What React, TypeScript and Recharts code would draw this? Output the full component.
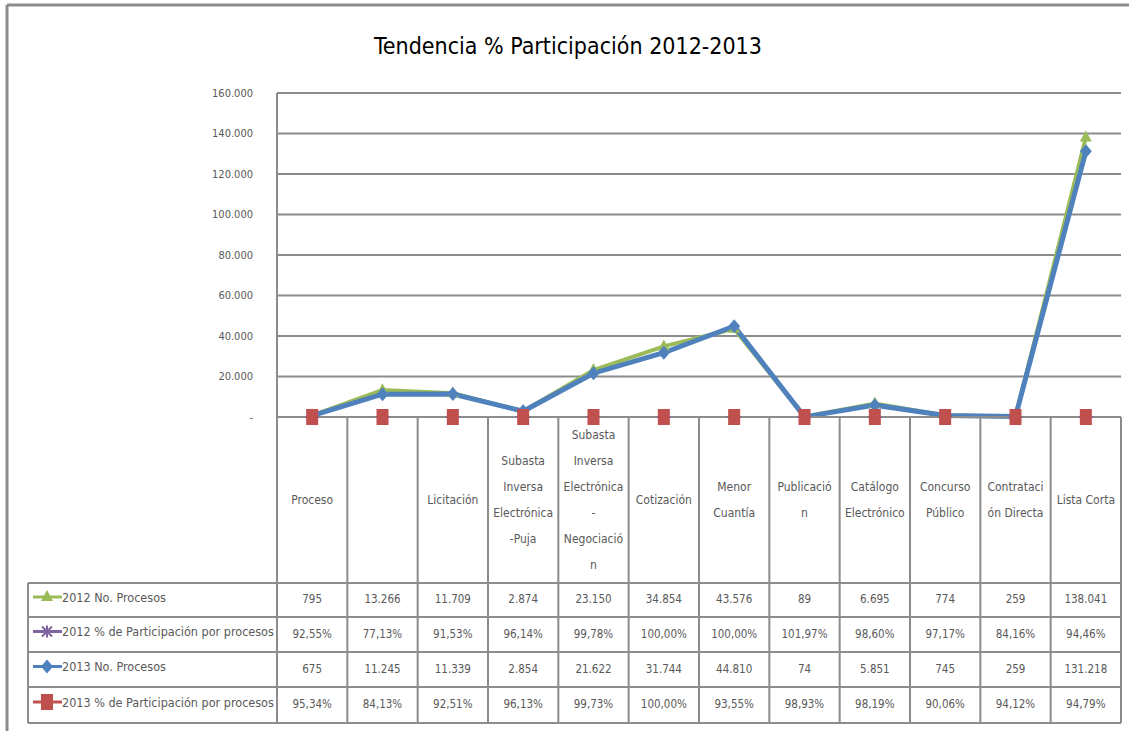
import { LineChart, Line, XAxis, YAxis, CartesianGrid, Customized } from 'recharts';

const categories: string[][] = [
  ['Proceso'],
  [],
  ['Licitación'],
  ['Subasta', 'Inversa', 'Electrónica', '-Puja'],
  ['Subasta', 'Inversa', 'Electrónica', '-', 'Negociació', 'n'],
  ['Cotización'],
  ['Menor', 'Cuantía'],
  ['Publicació', 'n'],
  ['Catálogo', 'Electrónico'],
  ['Concurso', 'Público'],
  ['Contrataci', 'ón Directa'],
  ['Lista Corta'],
];

const procesos2012 = [795, 13266, 11709, 2874, 23150, 34854, 43576, 89, 6695, 774, 259, 138041];
const participacion2012 = [92.55, 77.13, 91.53, 96.14, 99.78, 100.0, 100.0, 101.97, 98.6, 97.17, 84.16, 94.46];
const procesos2013 = [675, 11245, 11339, 2854, 21622, 31744, 44810, 74, 5851, 745, 259, 131218];
const participacion2013 = [95.34, 84.13, 92.51, 96.13, 99.73, 100.0, 93.55, 98.93, 98.19, 90.06, 94.12, 94.79];

const yTicks = [0, 20000, 40000, 60000, 80000, 100000, 120000, 140000, 160000];

const series = [
  { key: 'p2012', name: '2012 No. Procesos', color: '#9BBB59', shape: 'triangle', width: 4 },
  { key: 'q2012', name: '2012 % de Participación por procesos', color: '#8064A2', shape: 'star', width: 0 },
  { key: 'p2013', name: '2013 No. Procesos', color: '#4F81BD', shape: 'diamond', width: 5 },
  { key: 'q2013', name: '2013 % de Participación por procesos', color: '#C0504D', shape: 'square', width: 0 },
];

const data = categories.map((c, i) => ({
  idx: i,
  p2012: procesos2012[i],
  q2012: participacion2012[i] / 100,
  p2013: procesos2013[i],
  q2013: participacion2013[i] / 100,
}));

// layout
const W = 1129;
const H = 731;
const PLOT_L = 277;
const PLOT_R = 1121;
const PLOT_T = 93;
const PLOT_B = 417;
const COL_W = (PLOT_R - PLOT_L) / categories.length;
const ROWS = [583, 617, 652, 687, 723];
const TABLE_L = 28;
const GRID = '#8c8c8c';
const TEXT = '#595959';
const FONT = "'DejaVu Sans Condensed', 'Liberation Sans', sans-serif";

const fmtNum = (v: number) => (v === 0 ? '-' : v.toString().replace(/\B(?=(\d{3})+(?!\d))/g, '.'));
const fmtPct = (v: number) => v.toFixed(2).replace('.', ',') + '%';

function marker(shape: string, cx: number, cy: number, color: string, key?: string) {
  if (shape === 'triangle') {
    return <path key={key} d={`M${cx},${cy - 7}L${cx + 6},${cy + 4}L${cx - 6},${cy + 4}Z`} fill={color} />;
  }
  if (shape === 'diamond') {
    return <path key={key} d={`M${cx},${cy - 7}L${cx + 6},${cy}L${cx},${cy + 7}L${cx - 6},${cy}Z`} fill={color} />;
  }
  if (shape === 'star') {
    return (
      <g key={key} stroke={color} strokeWidth={2}>
        <line x1={cx - 7} y1={cy} x2={cx + 7} y2={cy} />
        <line x1={cx} y1={cy - 6} x2={cx} y2={cy + 6} />
        <line x1={cx - 5} y1={cy - 5} x2={cx + 5} y2={cy + 5} />
        <line x1={cx - 5} y1={cy + 5} x2={cx + 5} y2={cy - 5} />
      </g>
    );
  }
  return <rect key={key} x={cx - 6} y={cy - 8} width={12} height={16} fill={color} />;
}

function CategoryTick(props: any) {
  const { x, payload } = props;
  const i = payload.index;
  const lines = categories[i] || [];
  const lh = 26;
  const startY = 500 - ((lines.length - 1) * lh) / 2;
  const rowVals = [fmtNum(procesos2012[i]), fmtPct(participacion2012[i]), fmtNum(procesos2013[i]), fmtPct(participacion2013[i])];
  return (
    <g fontFamily={FONT} fill={TEXT}>
      {lines.map((l, j) => (
        <text key={j} x={x} y={startY + j * lh} fontSize={12} textAnchor="middle" dominantBaseline="central">
          {l}
        </text>
      ))}
      {rowVals.map((v, r) => (
        <text key={'r' + r} x={x} y={(ROWS[r] + ROWS[r + 1]) / 2 - 1} fontSize={11.5} textAnchor="middle" dominantBaseline="central">
          {v}
        </text>
      ))}
      <line x1={x + COL_W / 2} y1={PLOT_B} x2={x + COL_W / 2} y2={ROWS[4]} stroke={GRID} strokeWidth={2} />
    </g>
  );
}

function TableFrame() {
  return (
    <g fontFamily={FONT} fill={TEXT}>
      <line x1={7} y1={5} x2={W} y2={5} stroke={GRID} strokeWidth={3} />
      <line x1={7} y1={5} x2={7} y2={H} stroke={GRID} strokeWidth={3} />
      {ROWS.map((y) => (
        <line key={y} x1={TABLE_L} y1={y} x2={PLOT_R} y2={y} stroke={GRID} strokeWidth={2} />
      ))}
      <line x1={TABLE_L} y1={ROWS[0]} x2={TABLE_L} y2={ROWS[4]} stroke={GRID} strokeWidth={2} />
      <line x1={PLOT_L} y1={PLOT_B} x2={PLOT_L} y2={ROWS[4]} stroke={GRID} strokeWidth={2} />
      {series.map((s, r) => {
        const cy = (ROWS[r] + ROWS[r + 1]) / 2 - 3;
        return (
          <g key={s.key}>
            <line x1={33} y1={cy} x2={62} y2={cy} stroke={s.color} strokeWidth={3} />
            {marker(s.shape, 47, cy, s.color)}
            <text x={62} y={cy} fontSize={12.5} dominantBaseline="central" textAnchor="start">
              {s.name}
            </text>
          </g>
        );
      })}
    </g>
  );
}

export default function App() {
  return (
    <div style={{ position: 'absolute', left: 0, top: 0, background: '#fff' }}>
      <LineChart
        width={W}
        height={H}
        data={data}
        margin={{ top: PLOT_T, right: W - PLOT_R, left: PLOT_L - 60, bottom: 0 }}
      >
        <text x={568} y={46} textAnchor="middle" dominantBaseline="central" fontFamily={FONT} fontSize={23} fill="#000">
          Tendencia % Participación 2012-2013
        </text>
        <CartesianGrid vertical={false} stroke={GRID} strokeWidth={2} />
        <XAxis
          dataKey="idx"
          type="category"
          interval={0}
          height={H - PLOT_B}
          padding={{ left: COL_W / 2, right: COL_W / 2 }}
          axisLine={{ stroke: GRID, strokeWidth: 2 }}
          tickLine={false}
          tick={<CategoryTick />}
        />
        <YAxis
          width={60}
          domain={[0, 160000]}
          ticks={yTicks}
          interval={0}
          tickSize={0}
          tickMargin={24}
          tickLine={false}
          axisLine={{ stroke: GRID, strokeWidth: 2 }}
          tickFormatter={fmtNum}
          tick={{ fill: TEXT, fontSize: 11, fontFamily: FONT }}
        />
        <Customized component={TableFrame} />
        {series.map((s) => (
          <Line
            key={s.key}
            dataKey={s.key}
            name={s.name}
            type="linear"
            stroke={s.width ? s.color : 'none'}
            strokeWidth={s.width}
            isAnimationActive={false}
            dot={(p: any) => marker(s.shape, p.cx, p.cy, s.color, `${s.key}-${p.index}`)}
            activeDot={false}
          />
        ))}
      </LineChart>
    </div>
  );
}
